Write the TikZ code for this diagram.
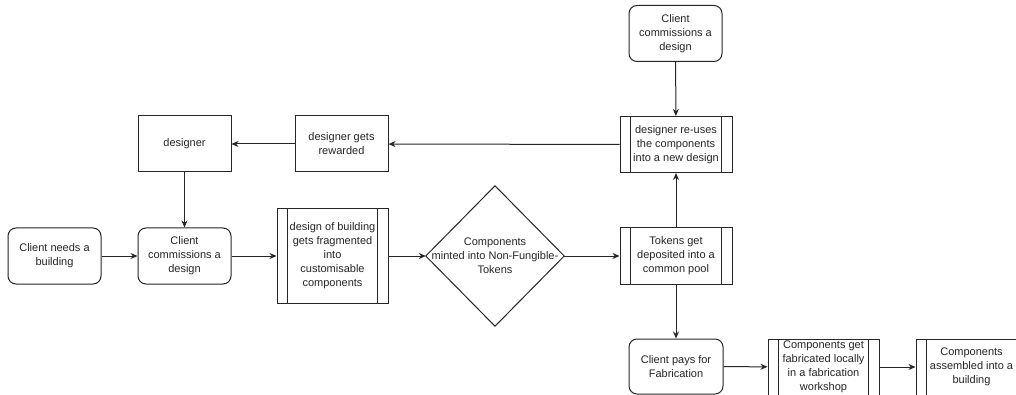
\documentclass[tikz,border=0pt]{standalone}
\usepackage{fontspec}
\setmainfont{Liberation Sans}
\usetikzlibrary{arrows.meta}
\definecolor{lineC}{gray}{0.15}
\begin{document}
\begin{tikzpicture}[x=1pt,y=-1pt,
  box/.style={draw=lineC, line width=1pt, fill=white, inner sep=0pt, text=lineC,
    minimum width=93pt, minimum height=56pt, align=center,
    font=\fontsize{11}{14}\selectfont},
  rbox/.style={box, rounded corners=8pt},
  proc/.style={box, minimum width=111pt},
  conn/.style={draw=lineC, line width=1pt, -{Stealth[length=7pt,width=6pt]}}]
\useasboundingbox (0,0) rectangle (1016,395);
\clip (0,0) rectangle (1016,395);
\fill[white] (0,0) rectangle (1016,395);

\node[rbox] (need) at (54.5,256) {Client needs a\\building};
\node[rbox] (comm1) at (184.5,256) {Client\\commissions a\\design};
\node[box] (designer) at (184.5,144) {designer};
\node[box] (rewarded) at (341.5,144) {designer gets\\rewarded};
\node[proc, minimum height=94pt] (frag) at (332.5,256) {design of building\\gets fragmented\\into\\customisable\\components};
\node[minimum width=138pt, minimum height=140pt, inner sep=0pt] (dia) at (495,256) {};
\draw[lineC, line width=1pt, fill=white] (dia.north) -- (dia.east) -- (dia.south) -- (dia.west) -- cycle;
\node[align=center, text=lineC, font=\fontsize{11}{14}\selectfont] (diatext) at (dia.center) {Components\\minted into Non-Fungible-\\Tokens};
\node[proc, minimum width=112pt] (tokens) at (676,256) {Tokens get\\deposited into a\\common pool};
\node[proc, minimum width=112pt] (reuse) at (676,144.5) {designer re-uses\\the components\\into a new design};
\node[rbox] (comm2) at (675.5,33.5) {Client\\commissions a\\design};
\node[rbox, minimum width=94pt, minimum height=55pt] (pays) at (676,366.5) {Client pays for\\Fabrication};
\node[proc] (fab) at (823.5,367) {Components get\\fabricated locally\\in a fabrication\\workshop};
\node[proc] (asm) at (971.5,367) {Components\\assembled into a\\building};

\foreach \n in {frag,tokens,reuse,fab,asm}
  \draw[lineC, line width=1pt] ([xshift=11pt]\n.north west) -- ([xshift=11pt]\n.south west)
    ([xshift=-11pt]\n.north east) -- ([xshift=-11pt]\n.south east);

\draw[conn] (need) -- (comm1);
\draw[conn] (designer) -- (comm1);
\draw[conn] (comm1) -- (frag);
\draw[conn] (frag) -- (dia.west);
\draw[conn] (dia.east) -- (tokens);
\draw[conn] (tokens) -- (reuse);
\draw[conn] (comm2) -- (reuse);
\draw[conn] (reuse) -- (rewarded);
\draw[conn] (rewarded) -- (designer);
\draw[conn] (tokens) -- (pays);
\draw[conn] (pays) -- (fab);
\draw[conn] (fab) -- (asm);
\end{tikzpicture}
\end{document}
